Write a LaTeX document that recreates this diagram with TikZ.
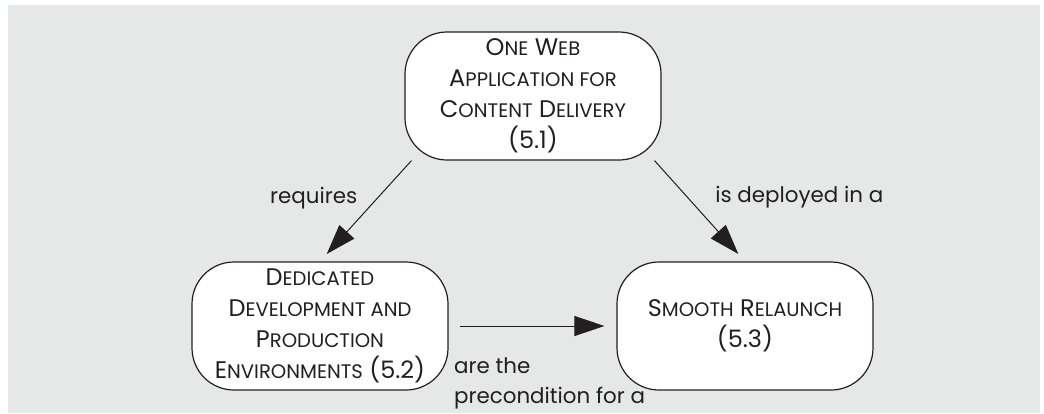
\documentclass[tikz,border=0pt]{standalone}
\usepackage{fontspec}
\setmainfont{Poppins}
\usetikzlibrary{calc, positioning, arrows.meta}
% fake small caps
\newcommand{\smc}[1]{{\fontsize{9.8}{15.5}\selectfont #1}}
\definecolor{bggray}{HTML}{E6E7E7}
\definecolor{ink}{HTML}{231F20}
\tikzset{
  font=\fontsize{10.7}{15}\selectfont,
  % Set arrowhead
  >={Triangle[length=15pt, width=10pt]},
  % Concept node
  cnode/.style={draw=ink, text=ink, fill=white, rounded corners=21pt,
    minimum width=128pt, minimum height=64pt, align=center, inner
    sep=0pt, line width=0.6pt, font=\fontsize{12}{15.5}\selectfont},
  % Relation arrow
  rel/.style={->, draw=ink, line width=0.5pt},
  % Relation label
  rlabel/.style={text=ink, inner sep=0pt},
}

\begin{document}
\begin{tikzpicture}[x=0.5pt, y=-0.5pt]
  \useasboundingbox (0,0) rectangle (1044,413);
  \fill[bggray] (8,5) rectangle (1040,413);

  \node[cnode] (web) at (533,96) {O\smc{NE} W\smc{EB}\\
    A\smc{PPLICATION FOR}\\ C\smc{ONTENT} D\smc{ELIVERY}\\ (5.1)};
  \node[cnode] (env) at (320,326) {D\smc{EDICATED}\\
    D\smc{EVELOPMENT AND}\\ P\smc{RODUCTION}\\ E\smc{NVIRONMENTS} (5.2)};
  \node[cnode] (relaunch) at (745,326) {S\smc{MOOTH} R\smc{ELAUNCH}\\ (5.3)};

  \draw[rel, shorten >=5pt] (web.208) -- node[rlabel, anchor=base east,
    xshift=-4pt, yshift=4pt] {requires} (env.north);
  \draw[rel, shorten >=5pt] (web.332) -- node[rlabel, anchor=base west,
    xshift=7.5pt, yshift=4.5pt] {is deployed in a} (relaunch.north);
  \draw[rel, shorten <=5.5pt, shorten >=6pt] (env.east) -- node[rlabel,
    pos=0, anchor=north west, align=left, xshift=2.5pt, yshift=-15.5pt]
    {are the\\ precondition for a} (relaunch.west);
\end{tikzpicture}
\end{document}
